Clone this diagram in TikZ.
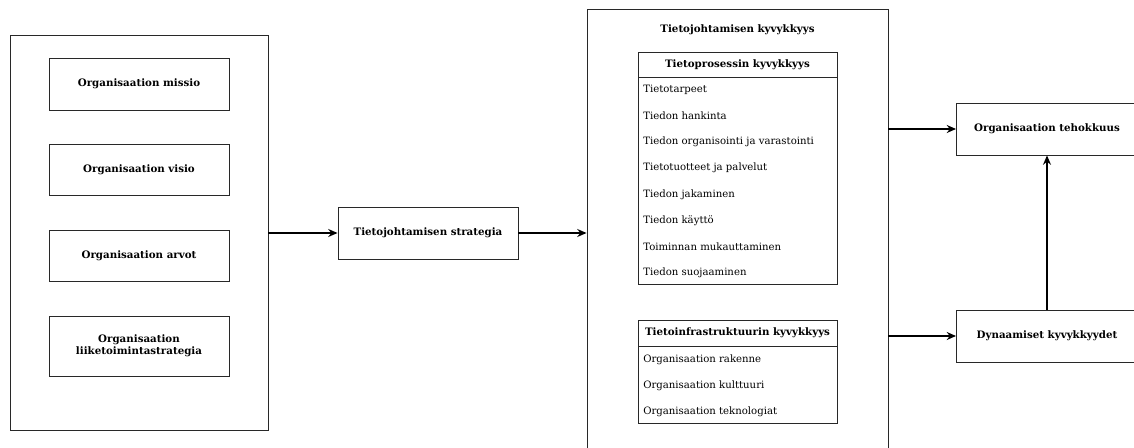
\documentclass[tikz,border=0pt]{standalone}
\usepackage{fontspec}
\setmainfont{DejaVu Serif}
\usepackage{tikz}
\usetikzlibrary{arrows.meta}
\definecolor{boxline}{RGB}{40, 40, 40}

\tikzset{
  box/.style={draw=boxline, line width=0.7pt, align=center, font=\bfseries\fontsize{7.7}{9.3}\selectfont},
  frame/.style={draw=boxline, line width=0.7pt},
  item/.style={anchor=west, inner sep=0pt, font=\fontsize{7.6}{9}\selectfont},
  conn/.style={->, line width=1.1pt}
}

\begin{document}
\begin{tikzpicture}[x=0.75pt, y=-0.75pt, >={Stealth[length=7pt, width=6pt]}]
    \path[use as bounding box, clip] (0, 0) rectangle (1134, 448);
    % left column
    \node[frame, minimum width=258*0.75pt, minimum height=395*0.75pt] (org) at (139, 232.5) {};
    \node[box, minimum width=180*0.75pt, minimum height=52*0.75pt] (missio) at (139, 84) {Organisaation missio};
    \node[box, minimum width=180*0.75pt, minimum height=51*0.75pt] (visio) at (139, 169.5) {Organisaation visio};
    \node[box, minimum width=180*0.75pt, minimum height=51*0.75pt] (arvot) at (139, 255.5) {Organisaation arvot};
    \node[box, minimum width=180*0.75pt, minimum height=60*0.75pt] (liike) at (139, 346) {Organisaation\\liiketoimintastrategia};
    % strategy
    \node[box, minimum width=180*0.75pt, minimum height=52*0.75pt] (strat) at (428, 233) {Tietojohtamisen strategia};
    % capability frame
    \node[frame, minimum width=301*0.75pt, minimum height=461*0.75pt] (kyky) at (737.5, 239.5) {};
    \node[font=\bfseries\fontsize{7.7}{9.3}\selectfont] (kykyt) at (737.5, 30) {Tietojohtamisen kyvykkyys};
    \node[box, minimum width=199*0.75pt, minimum height=25*0.75pt] (proc) at (737.5, 64.5) {Tietoprosessin kyvykkyys};
    \node[frame, minimum width=199*0.75pt, minimum height=207*0.75pt] (procb) at (737.5, 180.5) {};
    \foreach \t [count=\i from 0] in {Tietotarpeet, Tiedon hankinta, Tiedon organisointi ja varastointi,
        Tietotuotteet ja palvelut, Tiedon jakaminen, Tiedon käyttö, Toiminnan mukauttaminen, Tiedon suojaaminen}
      \node[item] (p\i) at (643, 89.5 + 26.2*\i) {\t};
    \node[box, minimum width=199*0.75pt, minimum height=26*0.75pt] (infra) at (737.5, 333) {Tietoinfrastruktuurin kyvykkyys};
    \node[frame, minimum width=199*0.75pt, minimum height=77*0.75pt] (infrab) at (737.5, 384.5) {};
    \foreach \t [count=\i from 0] in {Organisaation rakenne, Organisaation kulttuuri, Organisaation teknologiat}
      \node[item] (r\i) at (643, 359.5 + 26*\i) {\t};
    % outcomes
    \node[box, minimum width=181*0.75pt, minimum height=52*0.75pt] (teho) at (1047, 129) {Organisaation tehokkuus};
    \node[box, minimum width=181*0.75pt, minimum height=52*0.75pt] (dyn) at (1047, 336) {Dynaamiset kyvykkyydet};
    % connectors
    \draw[conn] (org.east |- strat) -- (strat);
    \draw[conn] (strat.east) -- (strat.east -| kyky.west);
    \draw[conn] (teho.west -| kyky.east) -- (teho.west);
    \draw[conn] (dyn.west -| kyky.east) -- (dyn.west);
    \draw[conn] (dyn) -- (teho);
\end{tikzpicture}
\end{document}
